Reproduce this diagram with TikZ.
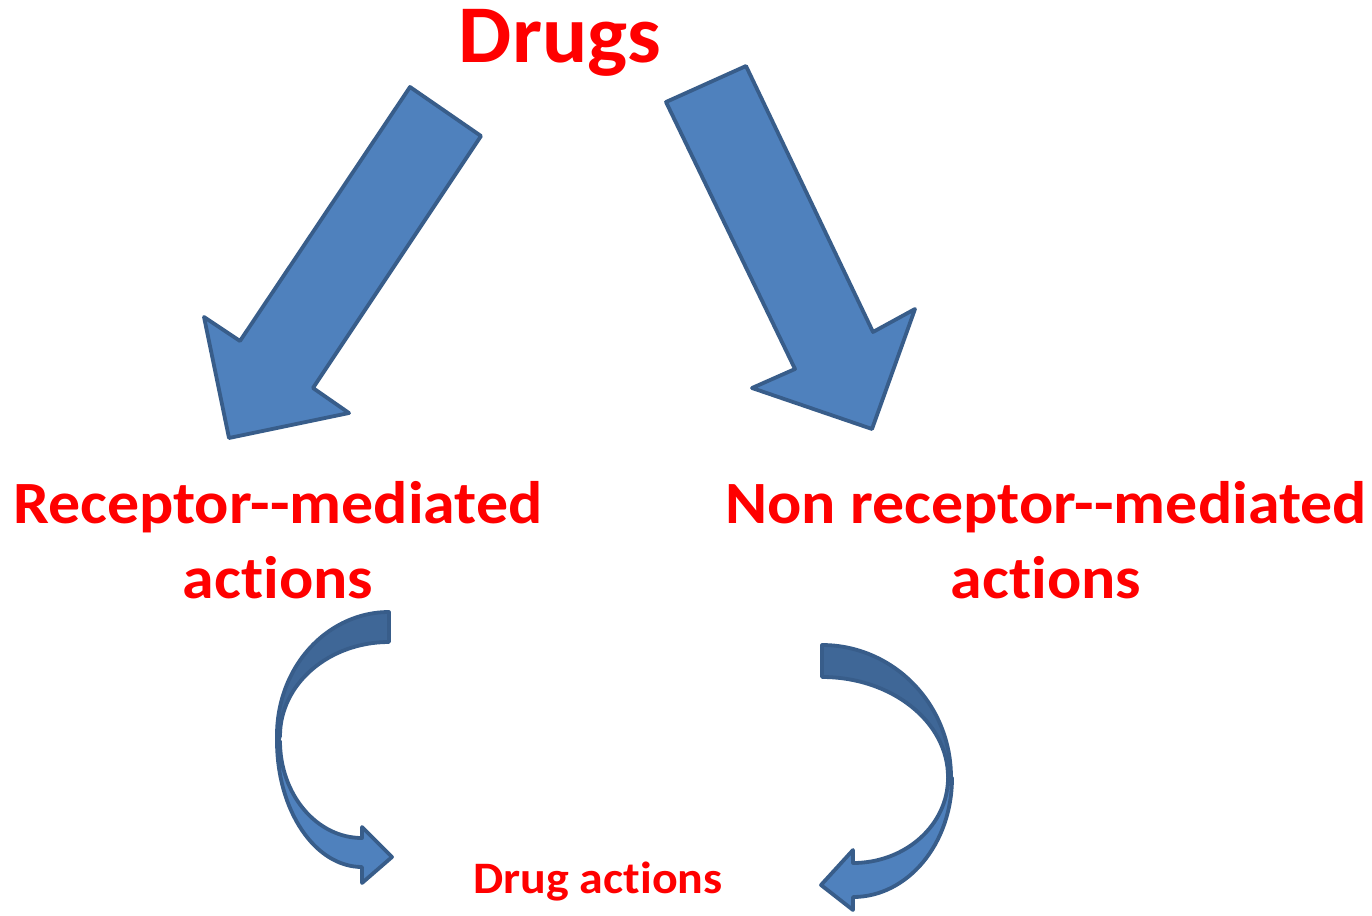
\documentclass[tikz,border=0pt]{standalone}
\usepackage{fontspec}
\setmainfont{Carlito}[RawFeature=-liga]
\newfontfamily\widefont{Carlito}[FakeStretch=1.065,RawFeature=-liga]
\newfontfamily\semiwidefont{Carlito}[FakeStretch=1.03,RawFeature=-liga]
\definecolor{arrowfill}{HTML}{4F81BD}
\definecolor{arrowdark}{HTML}{3F6797}
\definecolor{arrowline}{HTML}{385D8A}
\definecolor{txtred}{HTML}{FF0000}
\begin{document}
\begin{tikzpicture}[x=1pt,y=-1pt,
  blockarrow/.style={fill=arrowfill,draw=arrowline,line width=3.8pt,line join=round},
  darkpart/.style={fill=arrowdark,draw=arrowline,line width=3.8pt,line join=round},
  redtext/.style={text=txtred,inner sep=0pt,align=center,anchor=base}]
\useasboundingbox (0,0) rectangle (1372,915);
% straight arrows
\draw[blockarrow] (410,87) -- (481,136) -- (313,388) -- (349,413) -- (229,438) -- (204,317) -- (240,341) -- cycle;
\draw[blockarrow] (666,102) -- (746,66) -- (873,332) -- (915,309) -- (872,429) -- (752,388) -- (795,369) -- cycle;
% left curved arrow
\draw[darkpart] (389,612) arc[start angle=-90,end angle=-184,x radius=112,y radius=123]
  -- (280,736) arc[start angle=180,end angle=270,x radius=109,y radius=94] -- cycle;
\draw[blockarrow] (277,741) arc[start angle=180,end angle=90,x radius=85,y radius=126]
  -- (362,883) -- (392,857) -- (362,827) -- (362,838)
  arc[start angle=90,end angle=180,x radius=82,y radius=97] -- cycle;
% right curved arrow
\draw[darkpart] (822,645) arc[start angle=-90,end angle=4,x radius=129,y radius=132]
  -- (948,777) arc[start angle=0,end angle=-90,x radius=126,y radius=100] -- cycle;
\draw[blockarrow] (952,778) arc[start angle=0,end angle=90,x radius=99,y radius=119]
  -- (853,910) -- (821,885) -- (853,850) -- (853,863)
  arc[start angle=90,end angle=0,x radius=95,y radius=85] -- cycle;
% texts
\node[redtext,font=\fontsize{82}{90}\semiwidefont\bfseries] (drugs) at (560,63) {Drugs};
\node[redtext,font=\fontsize{60}{75}\widefont\bfseries] (rm1) at (278,523) {Receptor-{}-mediated};
\node[redtext,font=\fontsize{60}{75}\widefont\bfseries] (rm2) at (278,598) {actions};
\node[redtext,font=\fontsize{60}{75}\widefont\bfseries] (nrm1) at (1046,523) {Non receptor-{}-mediated};
\node[redtext,font=\fontsize{60}{75}\widefont\bfseries] (nrm2) at (1046,598) {actions};
\node[redtext,font=\fontsize{45}{50}\widefont\bfseries] (da) at (598,893) {Drug actions};
\end{tikzpicture}
\end{document}
